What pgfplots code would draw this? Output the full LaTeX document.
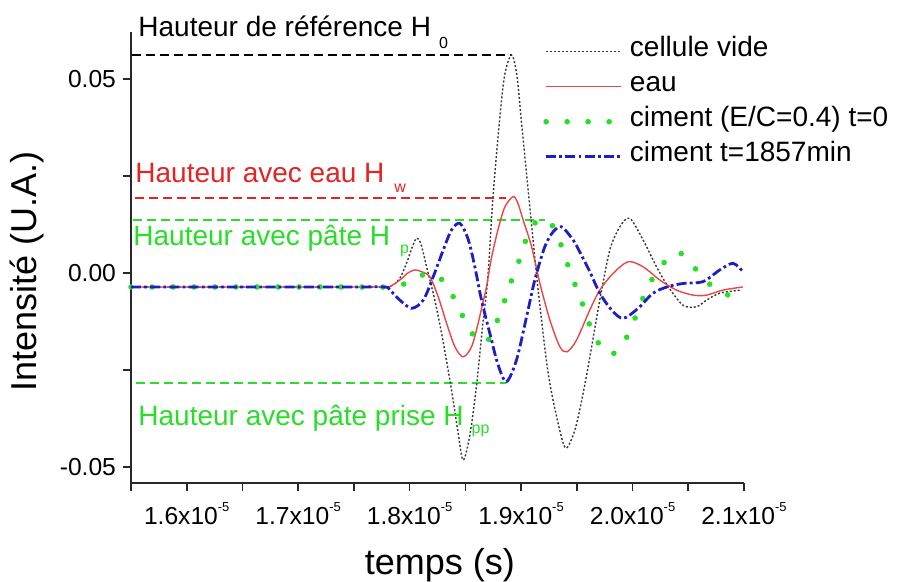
\documentclass[border=0pt]{standalone}
\usepackage{pgfplots}
\pgfplotsset{compat=1.18}
\usepackage{fontspec}
\setmainfont{Liberation Sans}
\definecolor{cvide}{RGB}{55,55,55}
\definecolor{ceau}{RGB}{232,70,70}
\definecolor{cvert}{RGB}{40,222,40}
\definecolor{cbleu}{RGB}{30,30,195}
\definecolor{ctxtred}{RGB}{228,35,35}
\definecolor{caxis}{RGB}{40,40,40}
\newcommand{\sci}[1]{#1x10\raisebox{0.55em}{\fontsize{6.5}{7}\selectfont -5}}
\begin{document}
\begin{tikzpicture}
\begin{axis}[
  scale only axis, width=306.5pt, height=225.5pt,
  xmin=1.55, xmax=2.1, ymin=-0.05412, ymax=0.06211,
  scaled y ticks=false, scaled x ticks=false,
  axis x line*=bottom, axis y line*=left,
  axis line style={caxis, line width=1pt, -},
  xtick={1.6,1.7,1.8,1.9,2.0,2.1},
  xticklabels={\sci{1.6},\sci{1.7},\sci{1.8},\sci{1.9},\sci{2.0},\sci{2.1}},
  minor xtick={1.55,1.65,1.75,1.85,1.95,2.05},
  ytick={-0.05,0,0.05}, yticklabels={-0.05,0.00,0.05},
  minor ytick={-0.025,0.025},
  tick align=outside, major tick length=4pt, minor tick length=4pt,
  tick style={caxis, line width=0.8pt},
  tick label style={font=\fontsize{12.3}{14}\selectfont},
  xticklabel style={yshift=-2pt},
  xlabel={temps (s)}, ylabel={Intensité (U.A.)},
  label style={font=\fontsize{18}{21}\selectfont},
  xlabel style={at={(axis description cs:0.504,-0.183)}, anchor=center},
  ylabel style={at={(axis description cs:-0.170,0.468)}, anchor=center},
  clip=false,
  legend style={at={(axis description cs:0.672,0.996)}, anchor=north west,
    draw=none, fill=none, font=\fontsize{14}{16}\selectfont,
    row sep=0pt, inner sep=0pt,
    nodes={inner sep=0pt, text height=11pt, text depth=6.5pt},
    /tikz/every odd column/.style={column sep=3pt}},
  legend cell align=left,
  legend image code/.code={\draw[#1] (0pt,0pt) -- (37.5pt,0pt);},
]
\coordinate (SW) at (rel axis cs:0,0);
\coordinate (NE) at (rel axis cs:1,1);
% reference height lines
\addplot[forget plot, black, line width=1pt, dash pattern=on 4.5pt off 2.5pt] coordinates {(1.5505,0.0563) (1.8914,0.0563)};
\addplot[forget plot, ctxtred, line width=1pt, dash pattern=on 4.5pt off 2.5pt] coordinates {(1.5536,0.0193) (1.8869,0.0193)};
\addplot[forget plot, cvert, line width=1pt, dash pattern=on 4.5pt off 2.5pt] coordinates {(1.5518,0.0137) (1.9213,0.0137)};
\addplot[forget plot, cvert, line width=1pt, dash pattern=on 4.5pt off 2.5pt] coordinates {(1.5545,-0.0284) (1.8869,-0.0284)};
% cellule vide
\addplot[cvide, line width=0.7pt, dash pattern=on 1pt off 1pt, smooth] coordinates {
(1.5500,-0.0036) (1.6500,-0.0036) (1.7500,-0.0036) (1.7778,-0.0036) (1.7850,-0.0031) (1.7913,-0.0013) (1.7973,0.0026) (1.8020,0.0064) (1.8062,0.0090) (1.8101,0.0075) (1.8152,0.0016) (1.8226,-0.0070) (1.8298,-0.0173) (1.8376,-0.0302) (1.8433,-0.0408) (1.8480,-0.0482) (1.8540,-0.0418) (1.8600,-0.0290) (1.8657,-0.0130) (1.8702,-0.0010) (1.8749,0.0200) (1.8809,0.0400) (1.8854,0.0512) (1.8914,0.0562) (1.8962,0.0510) (1.9004,0.0387) (1.9078,0.0171) (1.9153,-0.0044) (1.9243,-0.0258) (1.9332,-0.0387) (1.9401,-0.0451) (1.9482,-0.0405) (1.9554,-0.0314) (1.9617,-0.0216) (1.9706,-0.0070) (1.9796,0.0059) (1.9886,0.0119) (1.9975,0.0141) (2.0095,0.0085) (2.0215,0.0016) (2.0319,-0.0035) (2.0453,-0.0083) (2.0574,-0.0087) (2.0663,-0.0070) (2.0783,-0.0052) (2.0971,-0.0044)};
\addlegendentry{cellule vide}
% eau
\addplot[ceau, line width=0.7pt, smooth] coordinates {
(1.5500,-0.0036) (1.6500,-0.0036) (1.7500,-0.0036) (1.7778,-0.0036) (1.7823,-0.0035) (1.7913,-0.0018) (1.7984,0.0000) (1.8047,0.0008) (1.8110,0.0003) (1.8182,-0.0010) (1.8256,-0.0061) (1.8331,-0.0129) (1.8406,-0.0190) (1.8480,-0.0216) (1.8556,-0.0190) (1.8615,-0.0129) (1.8660,-0.0072) (1.8690,-0.0035) (1.8735,0.0040) (1.8794,0.0113) (1.8854,0.0170) (1.8929,0.0197) (1.8971,0.0180) (1.9018,0.0137) (1.9094,0.0068) (1.9168,-0.0026) (1.9258,-0.0121) (1.9348,-0.0190) (1.9413,-0.0203) (1.9497,-0.0173) (1.9617,-0.0095) (1.9706,-0.0044) (1.9826,-0.0001) (1.9960,0.0029) (2.0095,0.0016) (2.0244,-0.0018) (2.0394,-0.0044) (2.0543,-0.0057) (2.0663,-0.0057) (2.0812,-0.0044) (2.0989,-0.0036)};
\addlegendentry{eau}
% ciment t=0
\addplot[cvert, line width=2.8pt, line cap=round, dash pattern=on 0pt off 10.5pt, smooth] coordinates {
(1.5500,-0.0036) (1.6500,-0.0036) (1.7500,-0.0036) (1.7823,-0.0036) (1.7913,-0.0031) (1.8018,-0.0022) (1.8092,-0.0008) (1.8182,-0.0001) (1.8271,-0.0013) (1.8346,-0.0035) (1.8426,-0.0083) (1.8511,-0.0130) (1.8576,-0.0162) (1.8648,-0.0180) (1.8720,-0.0168) (1.8765,-0.0138) (1.8834,-0.0087) (1.8893,-0.0035) (1.8959,0.0012) (1.9013,0.0059) (1.9070,0.0106) (1.9132,0.0131) (1.9213,0.0139) (1.9276,0.0124) (1.9332,0.0094) (1.9392,0.0042) (1.9453,-0.0005) (1.9512,-0.0052) (1.9572,-0.0095) (1.9632,-0.0147) (1.9736,-0.0199) (1.9814,-0.0209) (1.9901,-0.0190) (1.9991,-0.0138) (2.0125,-0.0044) (2.0229,0.0008) (2.0349,0.0046) (2.0424,0.0052) (2.0513,0.0029) (2.0648,-0.0018) (2.0812,-0.0052) (2.0977,-0.0065)};
\addlegendentry{ciment (E/C=0.4) t=0}
% ciment t=1857min
\addplot[cbleu, line width=1.4pt, dash pattern=on 5pt off 1.6pt on 1.4pt off 1.6pt, smooth] coordinates {
(1.5500,-0.0036) (1.6500,-0.0036) (1.7500,-0.0036) (1.7778,-0.0036) (1.7823,-0.0044) (1.7913,-0.0070) (1.8018,-0.0091) (1.8122,-0.0070) (1.8211,-0.0010) (1.8301,0.0059) (1.8376,0.0111) (1.8451,0.0128) (1.8525,0.0087) (1.8585,0.0016) (1.8645,-0.0070) (1.8720,-0.0156) (1.8794,-0.0237) (1.8869,-0.0280) (1.8959,-0.0224) (1.9049,-0.0113) (1.9123,-0.0018) (1.9213,0.0068) (1.9287,0.0106) (1.9363,0.0119) (1.9467,0.0085) (1.9527,0.0054) (1.9617,0.0003) (1.9706,-0.0052) (1.9811,-0.0095) (1.9915,-0.0117) (2.0050,-0.0091) (2.0184,-0.0052) (2.0319,-0.0035) (2.0453,-0.0027) (2.0633,-0.0022) (2.0783,0.0008) (2.0902,0.0025) (2.0992,0.0003)};
\addlegendentry{ciment t=1857min}
% annotations
\node[anchor=base west, inner sep=0pt, font=\fontsize{14}{16}\selectfont, text=black] at (axis cs:1.5563,0.0609)
  {Hauteur de référence H\hspace{4pt}\raisebox{-6pt}{\fontsize{8}{8}\selectfont 0}};
\node[anchor=base west, inner sep=0pt, font=\fontsize{14}{16}\selectfont, text=ctxtred] at (axis cs:1.5536,0.0232)
  {Hauteur avec eau H\hspace{5pt}\raisebox{-5pt}{\fontsize{8}{8}\selectfont w}};
\node[anchor=base west, inner sep=0pt, font=\fontsize{14}{16}\selectfont, text=cvert] at (axis cs:1.5518,0.0072)
  {Hauteur avec pâte H\hspace{5pt}\raisebox{-4pt}{\fontsize{8}{8}\selectfont p}};
\node[anchor=base west, inner sep=0pt, font=\fontsize{14}{16}\selectfont, text=cvert] at (axis cs:1.5563,-0.0392)
  {Hauteur avec pâte prise H\hspace{4pt}\raisebox{-4pt}{\fontsize{8}{8}\selectfont pp}};
\end{axis}
\pgfresetboundingbox
\path[use as bounding box] (SW) ++(-65.5pt,-49pt) rectangle ([shift={(78.5pt,16pt)}]NE);
\end{tikzpicture}
\end{document}
